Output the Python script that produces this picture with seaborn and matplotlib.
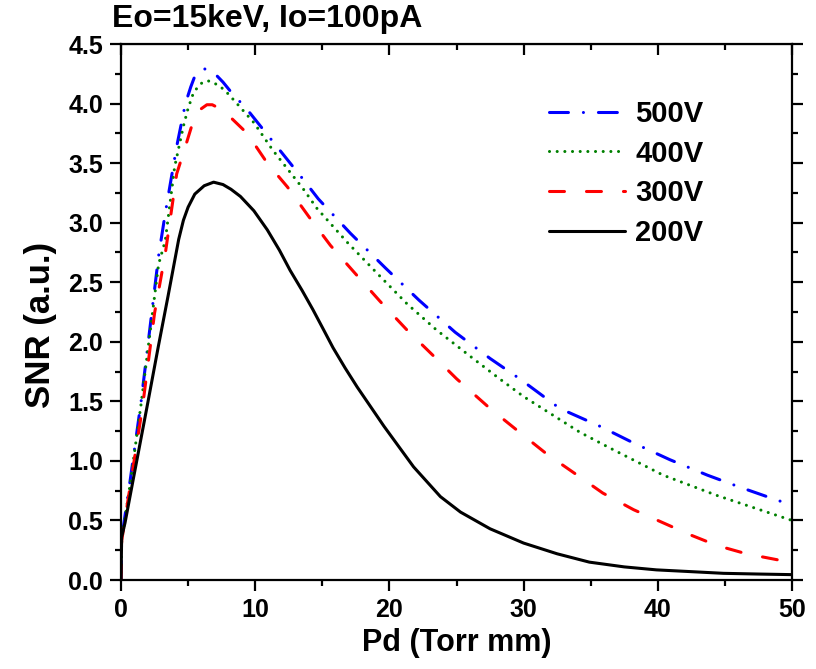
import numpy as np
import pandas as pd
import matplotlib
matplotlib.use("Agg")
import matplotlib.pyplot as plt
import seaborn as sns

# values (Pd in Torr mm, SNR in a.u.)
pd_500 = [0, 0.05, 0.7, 1.5, 2.8, 3.3, 4.15, 4.8, 5.2, 5.5, 5.8, 6.1, 6.5, 7.0,
          7.6, 8.25, 9.4, 13.6, 14.7, 17.1, 19.7, 22.2, 24.9, 27.5, 29.7, 32.7,
          35.7, 38.2, 40.9, 43.7, 46.1, 48.9, 50]
snr_500 = [0, 0.35, 0.85, 1.5, 2.72, 3.08, 3.64, 4.0, 4.14, 4.23, 4.27, 4.29, 4.29, 4.25,
           4.18, 4.09, 3.95, 3.36, 3.2, 2.91, 2.62, 2.35, 2.08, 1.86, 1.69, 1.44,
           1.29, 1.15, 1.01, 0.88, 0.78, 0.67, 0.63]

pd_400 = [0, 0.05, 0.7, 1.5, 2.8, 3.3, 4.0, 4.65, 5.0, 5.4, 5.8, 6.1, 6.5, 6.8,
          7.3, 7.75, 8.4, 9.9, 11.3, 13.6, 14.6, 16.9, 19.3, 21.3, 23.5, 26.0,
          28.2, 30.0, 34.2, 36.4, 40.4, 44.4, 50]
snr_400 = [0, 0.33, 0.82, 1.48, 2.65, 2.85, 3.47, 3.81, 3.96, 4.09, 4.15, 4.18, 4.19, 4.18,
           4.15, 4.11, 4.03, 3.84, 3.61, 3.28, 3.12, 2.83, 2.55, 2.32, 2.10, 1.88,
           1.69, 1.54, 1.24, 1.11, 0.88, 0.71, 0.5]

pd_300 = [0, 0.05, 0.7, 1.6, 2.5, 3.3, 4.15, 4.8, 5.4, 5.9, 6.4, 6.8, 7.5, 8.2,
          9.4, 10.9, 12.4, 14.0, 15.6, 17.4, 19.3, 21.3, 23.3, 25.0, 27.5, 29.7,
          31.7, 34.0, 35.9, 38.2, 40.4, 42.4, 44.4, 46.6, 48.9, 50]
snr_300 = [0, 0.33, 0.8, 1.45, 2.24, 2.74, 3.41, 3.64, 3.86, 3.95, 3.99, 3.99, 3.95, 3.88,
           3.75, 3.5, 3.3, 3.05, 2.81, 2.58, 2.34, 2.10, 1.88, 1.69, 1.44, 1.24,
           1.06, 0.88, 0.73, 0.59, 0.48, 0.38, 0.29, 0.22, 0.17, 0.16]

pd_200 = [0, 0.05, 0.3, 0.92, 2.0, 2.78, 3.5, 4.0, 4.3, 4.65, 5.0, 5.5, 6.2, 6.9,
          7.6, 8.2, 8.9, 9.9, 10.9, 11.8, 12.6, 13.5, 14.3, 15.1, 15.8, 16.7, 17.6,
          19.6, 21.8, 23.8, 25.3, 27.5, 30.0, 32.5, 34.9, 37.5, 39.9, 42.5, 44.9,
          47.5, 50]
snr_200 = [0, 0.36, 0.48, 0.85, 1.49, 1.96, 2.38, 2.68, 2.86, 3.02, 3.13, 3.24, 3.31, 3.34,
           3.32, 3.28, 3.22, 3.10, 2.94, 2.77, 2.60, 2.43, 2.27, 2.10, 1.95, 1.78, 1.62,
           1.29, 0.95, 0.70, 0.57, 0.43, 0.31, 0.22, 0.15, 0.11, 0.085, 0.07, 0.056,
           0.05, 0.045]

voltages = ["500V", "400V", "300V", "200V"]
colors = ["#0000ff", "#008000", "#ff0000", "#000000"]

df = pd.concat([
    pd.DataFrame({"Pd": pd_500, "SNR": snr_500, "V": "500V"}),
    pd.DataFrame({"Pd": pd_400, "SNR": snr_400, "V": "400V"}),
    pd.DataFrame({"Pd": pd_300, "SNR": snr_300, "V": "300V"}),
    pd.DataFrame({"Pd": pd_200, "SNR": snr_200, "V": "200V"}),
], ignore_index=True)

sns.set_style("ticks")
plt.rcParams["font.family"] = ["Liberation Sans", "DejaVu Sans"]
plt.rcParams["font.weight"] = "bold"
for key in ["text.color", "axes.labelcolor", "xtick.color", "ytick.color", "axes.edgecolor"]:
    plt.rcParams[key] = "black"

fig = plt.figure(figsize=(8.16, 6.69), dpi=100)
ax = fig.add_axes([121 / 816, 89 / 669, 671 / 816, 536 / 669])

dashes = {"500V": (6.2, 4.9, 0.01, 4.9), "400V": (0.01, 2.5),
          "300V": (4.9, 7.2), "200V": ""}
sns.lineplot(data=df, x="Pd", y="SNR", hue="V", style="V", hue_order=voltages,
             style_order=voltages, palette=dict(zip(voltages, colors)),
             dashes=dashes, estimator=None, sort=False, linewidth=2.2,
             dash_capstyle="round", ax=ax)

ax.set_xlim(0, 50)
ax.set_ylim(0, 4.5)
ax.set_xticks(np.arange(0, 51, 10))
ax.set_xticks(np.arange(5, 50, 10), minor=True)
ax.set_yticks(np.arange(0, 4.51, 0.5))
ax.set_yticks(np.arange(0.25, 4.5, 0.5), minor=True)
ax.set_xticklabels([f"{v:d}" for v in range(0, 51, 10)], fontweight="bold")
ax.set_yticklabels([f"{v:.1f}" for v in np.arange(0, 4.51, 0.5)], fontweight="bold")

for side in ["left", "right", "top", "bottom"]:
    ax.spines[side].set_visible(True)
    ax.spines[side].set_linewidth(1.6)
ax.tick_params(axis="both", which="major", direction="out", length=8, width=1.6,
               labelsize=18, pad=5)
ax.tick_params(axis="both", which="minor", direction="out", length=4.5, width=1.6)
ax.tick_params(axis="y", which="both", right=True, labelright=False)

top = ax.secondary_xaxis("top")
top.set_xticks(np.arange(0, 51, 10))
top.set_xticks(np.arange(5, 50, 10), minor=True)
top.tick_params(which="major", direction="in", length=8, width=1.6, labeltop=False)
top.tick_params(which="minor", direction="in", length=4.5, width=1.6)

ax.set_xlabel("Pd (Torr mm)", fontsize=22, fontweight="bold", labelpad=4)
ax.set_ylabel("SNR (a.u.)", fontsize=25, fontweight="bold", va="center")
ax.yaxis.set_label_coords(-0.12, 0.475)
ax.text(-0.013, 1.018, "Eo=15keV, Io=100pA", transform=ax.transAxes,
        fontsize=23, fontweight="bold", ha="left", va="bottom")

handles, labels = ax.get_legend_handles_labels()
keep = [(h, l) for h, l in zip(handles, labels) if l in voltages]
ax.legend([h for h, _ in keep], [l for _, l in keep], loc="upper left",
          bbox_to_anchor=(549 / 816, 1 - 100 / 669), bbox_transform=fig.transFigure,
          frameon=False, fontsize=21, handlelength=2.6, handletextpad=0.35,
          labelspacing=0.4, borderpad=0, borderaxespad=0)

fig.savefig("out.png", dpi=100)
